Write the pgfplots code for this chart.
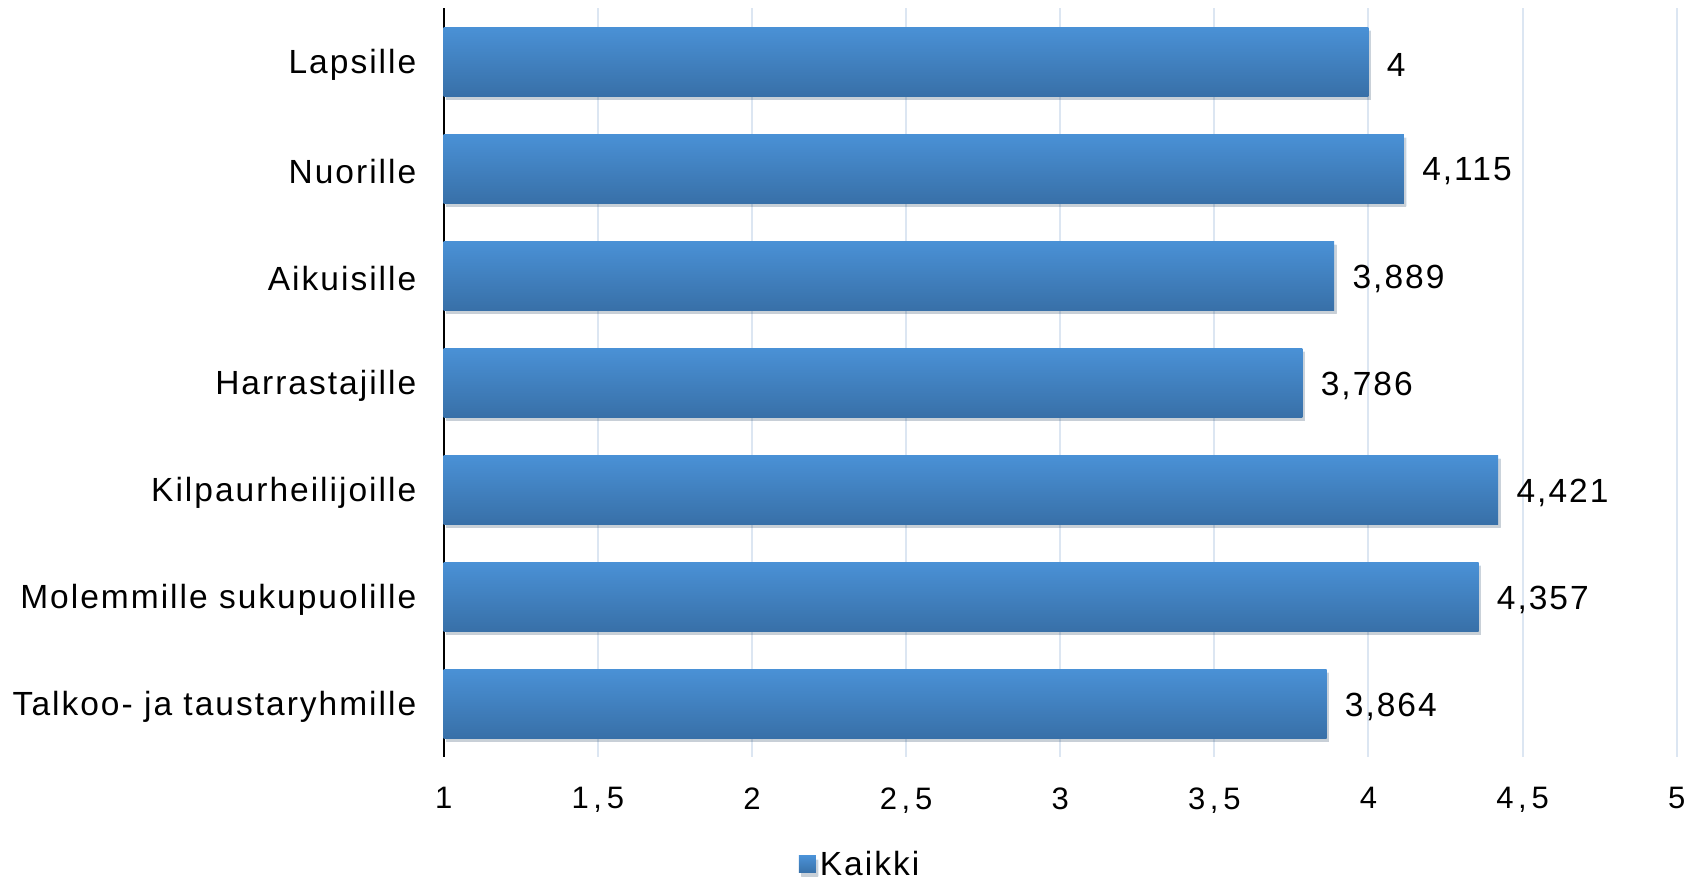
\documentclass[border=0pt]{standalone}
\usepackage{fontspec}
\setmainfont{Liberation Sans}[LetterSpace=6]
\usepackage{pgfplots}
\pgfplotsset{compat=1.18}
\definecolor{bartop}{HTML}{4A91D6}
\definecolor{barbot}{HTML}{3870A8}
\definecolor{gridc}{HTML}{DCE6F2}
\begin{document}
\begin{tikzpicture}
\begin{axis}[
  at={(221.85bp,-4bp)}, anchor=north west,
  scale only axis, width=616.5bp, height=374.5bp,
  xmin=1, xmax=5, ymin=-0.5, ymax=6.5, y dir=reverse,
  clip=false, no markers,
  separate axis lines,
  axis x line*=bottom, axis y line*=left,
  x axis line style={draw=none},
  y axis line style={black, line width=0.9bp, -},
  xmajorgrids, grid style={gridc, line width=1bp},
  major tick length=0,
  xtick={1,1.5,2,2.5,3,3.5,4,4.5,5},
  xticklabels={1,{1,5},2,{2,5},3,{3,5},4,{4,5},5},
  ytick={0,1,2,3,4,5,6},
  yticklabels={Lapsille,Nuorille,Aikuisille,Harrastajille,Kilpaurheilijoille,Molemmille sukupuolille,Talkoo- ja taustaryhmille},
  xticklabel style={font=\fontsize{15.5bp}{18bp}\selectfont\addfontfeatures{LetterSpace=15}, anchor=north, inner sep=0pt, yshift=-15bp},
  yticklabel style={font=\fontsize{16.75bp}{20bp}\selectfont, anchor=east, inner sep=0pt, xshift=-13.5bp, yshift=-1.5bp},
  legend style={at={(0.3385,-0.1435)}, anchor=center, draw=none, fill=none,
    font=\fontsize{16.75bp}{20bp}\selectfont, inner sep=0pt,
    legend cell align=left},
  legend image code/.code={\fill[top color=bartop, bottom color=barbot] (0bp,-4.25bp) rectangle (8.5bp,4.25bp);},
  every axis plot/.append style={xbar, bar width=34.5bp, bar shift=0pt, draw=none, mark=none,
    top color=bartop, bottom color=barbot,
    preaction={fill=black, opacity=0.13, transform canvas={xshift=1.2bp, yshift=-1.8bp}},
    nodes near coords, point meta=explicit symbolic,
    nodes near coords style={anchor=west, inner sep=0pt, xshift=9bp, yshift=-1.5bp, text=black, font=\fontsize{16.75bp}{20bp}\selectfont}},
]
\begin{scope}
\clip (axis cs:1,-0.5) rectangle (axis cs:5.5,6.5);
\addplot coordinates {(4,0) [4]};
\addplot coordinates {(4.115,1) [4,115]};
\addplot coordinates {(3.889,2) [3,889]};
\addplot coordinates {(3.786,3) [3,786]};
\addplot coordinates {(4.421,4) [4,421]};
\addplot coordinates {(4.357,5) [4,357]};
\addplot coordinates {(3.864,6) [3,864]};
\end{scope}
\addlegendentry{Kaikki}
\end{axis}
\pgfresetboundingbox
\path[use as bounding box] (0,0) rectangle (852.5bp,-440bp);
\end{tikzpicture}
\end{document}
